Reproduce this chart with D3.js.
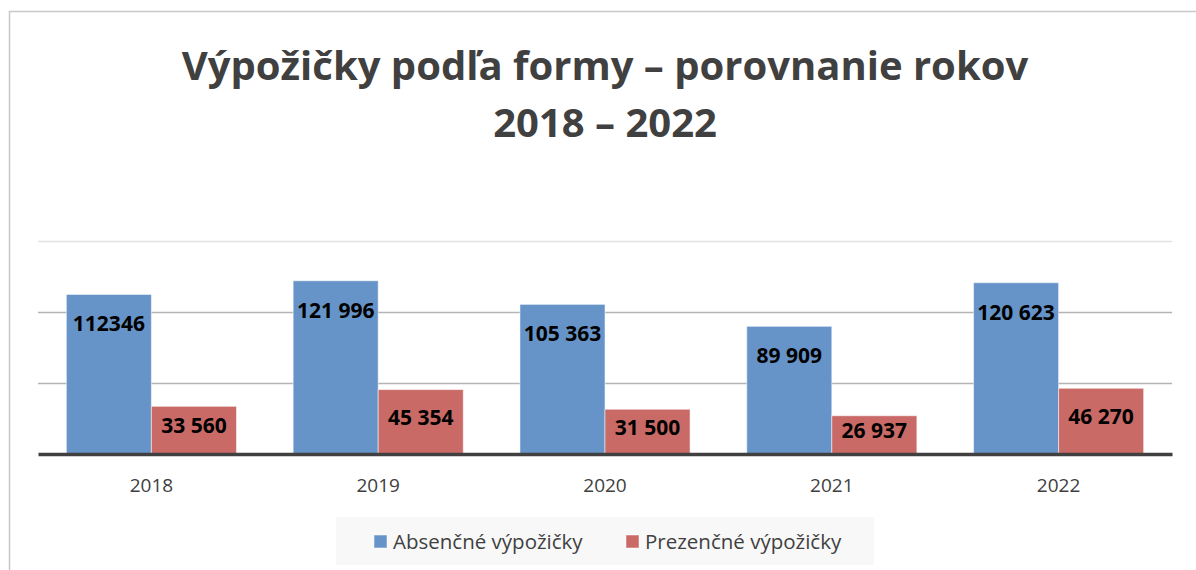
<!DOCTYPE html>
<html>
<head>
<meta charset="utf-8">
<script src="https://cdn.jsdelivr.net/npm/d3@7"></script>
<style>
  body { margin: 0; background: #fff; }
  text { font-family: "Open Sans", sans-serif; }
</style>
</head>
<body>
<div id="chart"></div>
<script>
const years = ["2018", "2019", "2020", "2021", "2022"];
const seriesNames = ["Absenčné výpožičky", "Prezenčné výpožičky"];
const absencne = [112346, 121996, 105363, 89909, 120623];
const prezencne = [33560, 45354, 31500, 26937, 46270];
const valueLabels = [
  ["112346", "121 996", "105 363", "89 909", "120 623"],
  ["33 560", "45 354", "31 500", "26 937", "46 270"]
];
const yTicks = [50000, 100000, 150000];
const colors = ["#6794c8", "#c96a67"];

const W = 1196, H = 570;
const margin = {top: 241, right: 24, bottom: 116, left: 38},
    width = W - margin.left - margin.right,
    height = H - margin.top - margin.bottom;

const root = d3.select("#chart").append("svg")
    .attr("width", W)
    .attr("height", H);

// outer chart frame
root.append("rect")
    .attr("x", 9.5).attr("y", 11.5)
    .attr("width", W).attr("height", H)
    .attr("fill", "none")
    .attr("stroke", "#c8c8c8")
    .attr("stroke-width", 1.5);

// title
const title = root.append("text")
    .attr("text-anchor", "middle")
    .attr("fill", "#404040")
    .style("font-weight", "bold")
    .style("font-size", "40px");
title.append("tspan").attr("x", margin.left + width / 2).attr("y", 80)
    .text("Výpožičky podľa formy – porovnanie rokov");
title.append("tspan").attr("x", margin.left + width / 2).attr("y", 137)
    .text("2018 – 2022");

const svg = root.append("g")
    .attr("transform", "translate(" + margin.left + "," + margin.top + ")");

const x = d3.scaleBand()
    .domain(years)
    .range([0, width])
    .paddingInner(0.25)
    .paddingOuter(0.125);

const xs = d3.scaleBand()
    .domain([0, 1])
    .range([0, x.bandwidth()]);

const y = d3.scaleLinear()
    .domain([0, 150000])
    .range([height, 0]);

// gridlines
const grid = svg.append("g")
    .attr("class", "grid")
    .call(d3.axisLeft(y).tickValues(yTicks).tickSize(-width).tickFormat(""));
grid.select(".domain").remove();
grid.selectAll("line")
    .attr("stroke", d => d === 150000 ? "#e2e2e2" : "#b4b4b4")
    .attr("stroke-width", 1.5);

const data = years.map((yr, i) => ({year: yr, vals: [absencne[i], prezencne[i]], i: i}));

const groups = svg.selectAll(".grp")
    .data(data)
    .enter()
    .append("g")
    .attr("transform", d => "translate(" + x(d.year) + ",0)");

groups.selectAll("rect")
    .data(d => d.vals.map((v, s) => ({v: v, s: s, i: d.i})))
    .enter()
    .append("rect")
    .attr("x", d => xs(d.s))
    .attr("y", d => y(d.v))
    .attr("width", xs.bandwidth())
    .attr("height", d => height - y(d.v))
    .attr("fill", d => colors[d.s])
    .attr("stroke", "#ffffff")
    .attr("stroke-opacity", 0.5)
    .attr("stroke-width", 1);

groups.selectAll(".lbl")
    .data(d => d.vals.map((v, s) => ({v: v, s: s, i: d.i})))
    .enter()
    .append("text")
    .attr("class", "lbl")
    .attr("x", d => xs(d.s) + xs.bandwidth() / 2)
    .attr("y", d => d.s === 0 ? y(d.v) + 37 : (y(d.v) + height) / 2 + 3)
    .attr("text-anchor", "middle")
    .attr("fill", "#000")
    .style("font-weight", "bold")
    .style("font-size", "21px")
    .text(d => valueLabels[d.s][d.i]);

// x axis
const xAxis = svg.append("g")
    .attr("transform", "translate(0," + height + ")")
    .call(d3.axisBottom(x).tickSize(0).tickPadding(25));
xAxis.select(".domain")
    .attr("stroke", "#404040")
    .attr("stroke-width", 3.5);
xAxis.selectAll("text")
    .attr("fill", "#404040")
    .style("font-family", "'Open Sans', sans-serif")
    .style("font-size", "19px");

// legend
const legend = root.append("g");
legend.append("rect")
    .attr("x", 336).attr("y", 517)
    .attr("width", 538).attr("height", 48)
    .attr("fill", "#f8f8f8");
const legendX = [374, 626];
seriesNames.forEach((name, s) => {
  legend.append("rect")
      .attr("x", legendX[s]).attr("y", 535)
      .attr("width", 13).attr("height", 13)
      .attr("fill", colors[s])
      .attr("stroke", "#fff").attr("stroke-opacity", 0.5);
  legend.append("text")
      .attr("x", legendX[s] + 19)
      .attr("y", 549)
      .attr("fill", "#404040")
      .style("font-size", "20.5px")
      .text(name);
});
</script>
</body>
</html>
